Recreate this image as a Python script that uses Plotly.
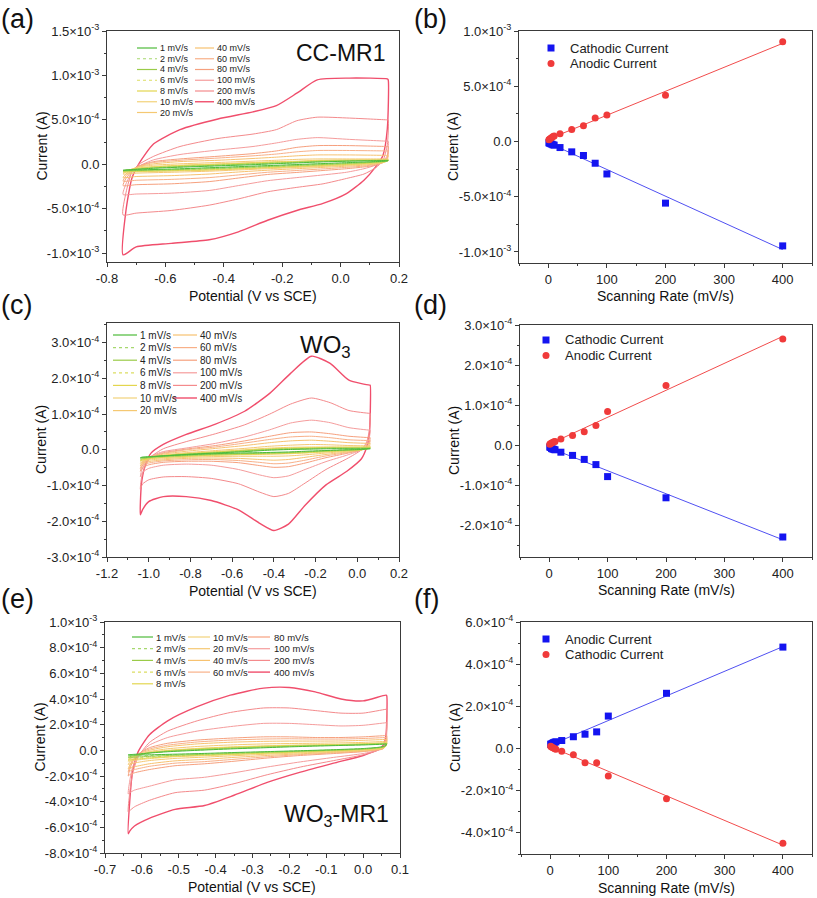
import numpy as np
import plotly.graph_objects as go

W, H = 817, 898
FONT = "Liberation Sans, Arial, sans-serif"
UNIT = 1e-4  # all current values below are in units of 1e-4 A

# ---------------- common series info ----------------
RATES = [1, 2, 4, 6, 8, 10, 20, 40, 60, 80, 100, 200, 400]
RATE_LABELS = ["1 mV/s", "2 mV/s", "4 mV/s", "6 mV/s", "8 mV/s", "10 mV/s", "20 mV/s",
               "40 mV/s", "60 mV/s", "80 mV/s", "100 mV/s", "200 mV/s", "400 mV/s"]
CV_COLORS = ["#4DBB3A", "#A6D86E", "#9ACB48", "#DCDD62", "#E3D64E", "#F2D27A", "#F5C872",
             "#F7C270", "#F8B088", "#F6A07E", "#F59C9C", "#F48A8C", "#F04E6C"]
CV_DASH = ["solid", "dot", "solid", "dot", "solid", "solid", "solid",
           "solid", "solid", "solid", "solid", "solid", "solid"]

# ---------------- (a) CC-MR1 CV ----------------
A_E_UP = [-0.745, -0.735, -0.715, -0.69, -0.64, -0.55, -0.42, -0.30, -0.22, -0.15, -0.08, 0.03, 0.16]
A_E_DN = [0.163, 0.16, 0.145, 0.12, 0.08, 0.02, -0.06, -0.15, -0.25, -0.35, -0.45, -0.58, -0.70, -0.745]
A_I_UP = [
    [-0.68, -0.65, -0.6, -0.55, -0.45, -0.33, -0.18, -0.05, 0.07, 0.15, 0.25, 0.35, 0.42],
    [-0.7, -0.65, -0.6, -0.53, -0.42, -0.3, -0.15, 0.0, 0.1, 0.2, 0.28, 0.37, 0.44],
    [-0.75, -0.68, -0.6, -0.52, -0.4, -0.25, -0.1, 0.05, 0.15, 0.23, 0.32, 0.4, 0.45],
    [-0.8, -0.7, -0.6, -0.5, -0.35, -0.2, -0.05, 0.1, 0.2, 0.27, 0.35, 0.42, 0.46],
    [-0.85, -0.72, -0.58, -0.45, -0.3, -0.15, 0.0, 0.15, 0.25, 0.3, 0.4, 0.45, 0.48],
    [-0.9, -0.75, -0.55, -0.4, -0.25, -0.1, 0.05, 0.2, 0.3, 0.35, 0.45, 0.5, 0.5],
    [-1.1, -0.85, -0.55, -0.3, -0.1, 0.05, 0.2, 0.35, 0.45, 0.55, 0.6, 0.6, 0.6],
    [-1.5, -1.1, -0.6, -0.25, 0.05, 0.3, 0.45, 0.65, 0.8, 0.95, 1.05, 1.05, 1.0],
    [-1.9, -1.3, -0.7, -0.2, 0.2, 0.45, 0.7, 0.95, 1.15, 1.4, 1.55, 1.55, 1.5],
    [-2.4, -1.6, -0.8, -0.2, 0.3, 0.6, 0.9, 1.2, 1.5, 1.9, 2.1, 2.1, 2.0],
    [-3.4, -2.2, -0.9, -0.2, 0.5, 1.1, 1.6, 2.0, 2.4, 2.8, 3.0, 2.8, 2.6],
    [-5.7, -3.2, -0.9, 0.0, 0.9, 2.0, 2.9, 3.4, 3.9, 4.9, 5.3, 5.2, 5.0],
    [-10.2, -5.2, -1.6, 0.1, 2.3, 3.9, 5.1, 5.9, 6.6, 8.0, 9.5, 9.7, 9.6],
]
A_I_DN = [
    [0.42, 0.38, 0.34, 0.3, 0.25, 0.18, 0.08, -0.03, -0.15, -0.27, -0.39, -0.54, -0.64, -0.68],
    [0.44, 0.38, 0.32, 0.27, 0.21, 0.13, 0.03, -0.08, -0.2, -0.32, -0.44, -0.57, -0.67, -0.7],
    [0.45, 0.37, 0.3, 0.24, 0.17, 0.08, -0.03, -0.14, -0.26, -0.38, -0.5, -0.62, -0.71, -0.75],
    [0.46, 0.36, 0.28, 0.21, 0.13, 0.03, -0.08, -0.2, -0.32, -0.44, -0.56, -0.67, -0.76, -0.8],
    [0.48, 0.35, 0.25, 0.18, 0.09, -0.02, -0.13, -0.25, -0.37, -0.5, -0.62, -0.72, -0.8, -0.85],
    [0.5, 0.35, 0.23, 0.15, 0.05, -0.06, -0.17, -0.29, -0.42, -0.55, -0.67, -0.77, -0.85, -0.9],
    [0.6, 0.4, 0.2, 0.1, 0.0, -0.12, -0.24, -0.36, -0.5, -0.64, -0.78, -0.9, -1.0, -1.1],
    [1.0, 0.55, 0.2, 0.05, -0.1, -0.22, -0.35, -0.5, -0.67, -0.87, -1.1, -1.28, -1.38, -1.5],
    [1.5, 0.7, 0.2, 0.0, -0.2, -0.35, -0.52, -0.7, -0.9, -1.2, -1.5, -1.7, -1.8, -1.9],
    [2.0, 0.8, 0.2, -0.1, -0.3, -0.5, -0.7, -0.92, -1.15, -1.55, -1.95, -2.2, -2.3, -2.4],
    [2.6, 1.0, 0.3, -0.1, -0.5, -0.9, -1.2, -1.5, -1.85, -2.4, -2.95, -3.25, -3.35, -3.4],
    [5.0, 2.2, 0.4, -0.4, -1.1, -1.6, -2.2, -2.6, -3.1, -3.9, -4.6, -5.2, -5.5, -5.7],
    [9.5, 4.0, 1.0, -0.3, -1.8, -3.3, -4.4, -5.2, -6.3, -7.6, -8.5, -8.9, -9.3, -10.2],
]

# ---------------- (c) WO3 CV ----------------
C_E_UP = [-1.04, -1.035, -1.02, -0.99, -0.93, -0.82, -0.68, -0.54, -0.42, -0.32, -0.22, -0.13, -0.04, 0.06]
C_E_DN = [0.062, 0.058, 0.045, 0.02, -0.05, -0.15, -0.25, -0.33, -0.40, -0.47, -0.57, -0.70, -0.82,
          -0.93, -1.0, -1.03, -1.04]
C_I_UP = [
    [-0.22, -0.21, -0.2, -0.19, -0.17, -0.13, -0.09, -0.05, -0.01, 0.01, 0.02, 0.03, 0.03, 0.03],
    [-0.24, -0.23, -0.22, -0.2, -0.17, -0.13, -0.09, -0.04, 0.0, 0.02, 0.03, 0.04, 0.04, 0.04],
    [-0.26, -0.25, -0.23, -0.2, -0.17, -0.12, -0.08, -0.03, 0.01, 0.03, 0.04, 0.05, 0.05, 0.05],
    [-0.28, -0.27, -0.24, -0.21, -0.17, -0.12, -0.07, -0.02, 0.02, 0.04, 0.05, 0.06, 0.06, 0.06],
    [-0.3, -0.28, -0.25, -0.21, -0.16, -0.11, -0.06, -0.01, 0.03, 0.05, 0.06, 0.07, 0.07, 0.07],
    [-0.32, -0.3, -0.26, -0.21, -0.16, -0.1, -0.05, 0.0, 0.05, 0.07, 0.08, 0.08, 0.08, 0.08],
    [-0.38, -0.34, -0.28, -0.21, -0.15, -0.08, -0.02, 0.04, 0.1, 0.13, 0.15, 0.14, 0.12, 0.11],
    [-0.45, -0.39, -0.3, -0.2, -0.12, -0.04, 0.04, 0.12, 0.2, 0.25, 0.27, 0.24, 0.2, 0.18],
    [-0.52, -0.44, -0.32, -0.2, -0.1, 0.0, 0.08, 0.19, 0.29, 0.36, 0.38, 0.34, 0.28, 0.26],
    [-0.6, -0.5, -0.35, -0.2, -0.08, 0.02, 0.12, 0.25, 0.38, 0.48, 0.5, 0.45, 0.38, 0.34],
    [-0.75, -0.6, -0.4, -0.18, -0.05, 0.05, 0.18, 0.36, 0.56, 0.75, 0.83, 0.76, 0.62, 0.55],
    [-1.10, -0.8, -0.5, -0.2, 0.03, 0.23, 0.45, 0.70, 1.0, 1.28, 1.45, 1.32, 1.10, 1.02],
    [-1.82, -0.96, -0.5, -0.1, 0.15, 0.43, 0.72, 1.08, 1.58, 2.14, 2.62, 2.42, 1.95, 1.81],
]
C_I_DN = [
    [0.03, 0.03, 0.02, 0.01, 0.0, -0.02, -0.04, -0.06, -0.07, -0.08, -0.09, -0.11, -0.14, -0.17, -0.2, -0.21, -0.22],
    [0.04, 0.04, 0.03, 0.01, 0.0, -0.02, -0.05, -0.07, -0.08, -0.09, -0.1, -0.12, -0.15, -0.18, -0.21, -0.23, -0.24],
    [0.05, 0.04, 0.03, 0.01, -0.01, -0.03, -0.06, -0.08, -0.09, -0.1, -0.11, -0.13, -0.16, -0.19, -0.22, -0.24, -0.26],
    [0.06, 0.05, 0.03, 0.01, -0.01, -0.04, -0.07, -0.09, -0.1, -0.11, -0.12, -0.14, -0.17, -0.2, -0.23, -0.26, -0.28],
    [0.07, 0.05, 0.03, 0.0, -0.02, -0.05, -0.08, -0.1, -0.11, -0.12, -0.13, -0.15, -0.18, -0.21, -0.25, -0.28, -0.3],
    [0.08, 0.06, 0.03, 0.0, -0.03, -0.06, -0.09, -0.11, -0.12, -0.13, -0.14, -0.16, -0.19, -0.22, -0.26, -0.29, -0.32],
    [0.11, 0.08, 0.04, 0.0, -0.04, -0.09, -0.14, -0.17, -0.18, -0.18, -0.18, -0.19, -0.21, -0.25, -0.29, -0.33, -0.38],
    [0.18, 0.12, 0.06, 0.0, -0.06, -0.13, -0.21, -0.27, -0.29, -0.27, -0.24, -0.23, -0.24, -0.28, -0.33, -0.39, -0.45],
    [0.26, 0.17, 0.08, 0.0, -0.08, -0.17, -0.29, -0.37, -0.39, -0.35, -0.3, -0.27, -0.28, -0.31, -0.37, -0.44, -0.52],
    [0.34, 0.22, 0.1, 0.0, -0.1, -0.22, -0.37, -0.47, -0.49, -0.44, -0.36, -0.32, -0.32, -0.35, -0.42, -0.5, -0.6],
    [0.55, 0.35, 0.15, 0.0, -0.15, -0.33, -0.55, -0.73, -0.78, -0.7, -0.55, -0.43, -0.40, -0.43, -0.52, -0.63, -0.75],
    [1.02, 0.55, 0.22, 0.0, -0.25, -0.55, -0.93, -1.22, -1.31, -1.18, -0.95, -0.80, -0.75, -0.76, -0.84, -0.96, -1.10],
    [1.81, 0.45, 0.07, -0.25, -0.6, -0.98, -1.55, -2.08, -2.26, -2.05, -1.68, -1.42, -1.31, -1.31, -1.45, -1.68, -1.82],
]

# ---------------- (e) WO3-MR1 CV ----------------
E_E_UP = [-0.637, -0.633, -0.625, -0.61, -0.58, -0.53, -0.45, -0.36, -0.27, -0.2, -0.13, -0.06, 0.0, 0.062]
E_E_DN = [0.064, 0.062, 0.055, 0.04, 0.0, -0.08, -0.17, -0.26, -0.35, -0.43, -0.51, -0.58, -0.62, -0.633, -0.637]
E_I_UP = [
    [-0.35, -0.34, -0.32, -0.29, -0.21, -0.11, 0.0, 0.11, 0.2, 0.27, 0.33, 0.38, 0.42, 0.48],
    [-0.45, -0.42, -0.38, -0.32, -0.21, -0.09, 0.03, 0.14, 0.23, 0.3, 0.35, 0.4, 0.44, 0.5],
    [-0.55, -0.5, -0.43, -0.34, -0.2, -0.07, 0.06, 0.17, 0.26, 0.32, 0.37, 0.41, 0.46, 0.53],
    [-0.65, -0.58, -0.48, -0.36, -0.19, -0.05, 0.09, 0.2, 0.29, 0.35, 0.39, 0.43, 0.48, 0.55],
    [-0.75, -0.65, -0.52, -0.37, -0.18, -0.03, 0.12, 0.23, 0.32, 0.37, 0.41, 0.45, 0.5, 0.57],
    [-0.85, -0.72, -0.55, -0.38, -0.17, 0.0, 0.15, 0.27, 0.35, 0.4, 0.43, 0.47, 0.52, 0.6],
    [-1.1, -0.9, -0.65, -0.38, -0.1, 0.12, 0.3, 0.42, 0.5, 0.53, 0.55, 0.58, 0.62, 0.7],
    [-1.45, -1.15, -0.75, -0.35, 0.0, 0.28, 0.5, 0.63, 0.7, 0.72, 0.72, 0.73, 0.78, 0.85],
    [-1.7, -1.3, -0.8, -0.3, 0.1, 0.4, 0.65, 0.8, 0.88, 0.9, 0.88, 0.88, 0.92, 1.0],
    [-2.0, -1.5, -0.9, -0.3, 0.2, 0.55, 0.8, 0.95, 1.05, 1.05, 1.0, 1.0, 1.05, 1.15],
    [-3.4, -2.4, -1.3, -0.4, 0.4, 1.0, 1.5, 1.85, 2.1, 2.1, 2.0, 1.9, 1.95, 2.15],
    [-4.8, -3.3, -1.8, -0.5, 0.6, 1.5, 2.3, 2.95, 3.3, 3.3, 3.1, 2.9, 2.9, 3.2],
    [-6.5, -4.0, -1.6, -0.1, 1.2, 2.3, 3.4, 4.3, 4.85, 4.9, 4.55, 4.0, 3.85, 4.3],
]
E_I_DN = [
    [0.48, 0.4, 0.3, 0.23, 0.14, 0.05, -0.03, -0.1, -0.17, -0.24, -0.3, -0.35, -0.36, -0.36, -0.35],
    [0.5, 0.38, 0.28, 0.21, 0.12, 0.03, -0.05, -0.13, -0.2, -0.27, -0.34, -0.41, -0.44, -0.45, -0.45],
    [0.53, 0.37, 0.26, 0.19, 0.1, 0.01, -0.07, -0.15, -0.23, -0.31, -0.38, -0.47, -0.53, -0.55, -0.55],
    [0.55, 0.36, 0.24, 0.17, 0.08, -0.01, -0.1, -0.18, -0.27, -0.35, -0.42, -0.53, -0.62, -0.65, -0.65],
    [0.57, 0.35, 0.22, 0.15, 0.06, -0.03, -0.12, -0.21, -0.3, -0.38, -0.46, -0.59, -0.7, -0.74, -0.75],
    [0.6, 0.35, 0.2, 0.13, 0.04, -0.05, -0.14, -0.23, -0.33, -0.42, -0.5, -0.65, -0.78, -0.83, -0.85],
    [0.7, 0.35, 0.18, 0.1, 0.0, -0.1, -0.2, -0.3, -0.42, -0.53, -0.63, -0.8, -0.98, -1.06, -1.1],
    [0.85, 0.35, 0.15, 0.06, -0.05, -0.15, -0.27, -0.4, -0.55, -0.7, -0.82, -1.05, -1.28, -1.4, -1.45],
    [1.0, 0.35, 0.15, 0.05, -0.08, -0.2, -0.33, -0.5, -0.7, -0.88, -1.0, -1.25, -1.5, -1.62, -1.7],
    [1.15, 0.4, 0.15, 0.05, -0.1, -0.25, -0.4, -0.6, -0.85, -1.05, -1.2, -1.5, -1.75, -1.9, -2.0],
    [2.15, 0.6, 0.15, 0.0, -0.25, -0.55, -0.9, -1.3, -1.75, -2.1, -2.3, -2.8, -3.1, -3.3, -3.4],
    [3.2, 0.9, 0.3, 0.0, -0.35, -0.8, -1.3, -1.9, -2.6, -3.1, -3.3, -3.9, -4.4, -4.7, -4.8],
    [4.25, 1.2, 0.4, 0.05, -0.4, -1.0, -1.7, -2.5, -3.5, -4.3, -4.6, -5.3, -5.9, -6.3, -6.5],
]

# ---------------- peak currents vs scan rate ----------------
B_CATHODIC = [-0.12, -0.15, -0.2, -0.25, -0.3, -0.33, -0.55, -0.94, -1.27, -1.97, -2.94, -5.58, -9.45]
B_ANODIC = [0.15, 0.2, 0.3, 0.35, 0.45, 0.5, 0.70, 1.09, 1.42, 2.12, 2.39, 4.18, 9.03]
D_CATHODIC = [-0.05, -0.06, -0.09, -0.10, -0.11, -0.12, -0.18, -0.26, -0.36, -0.49, -0.79, -1.32, -2.30]
D_ANODIC = [0.02, 0.03, 0.05, 0.06, 0.08, 0.09, 0.15, 0.24, 0.33, 0.49, 0.84, 1.49, 2.65]
F_ANODIC = [0.20, 0.22, 0.25, 0.28, 0.30, 0.32, 0.38, 0.56, 0.68, 0.79, 1.54, 2.62, 4.81]
F_CATHODIC = [0.11, 0.08, 0.05, 0.02, -0.01, -0.03, -0.13, -0.29, -0.67, -0.67, -1.30, -2.38, -4.49]

# ---------------- axis ticks ----------------
A_YTICKS = [-1.0e-3, -5.0e-4, 0.0, 5.0e-4, 1.0e-3, 1.5e-3]
B_YTICKS = [-1.0e-3, -5.0e-4, 0.0, 5.0e-4, 1.0e-3]
C_YTICKS = [-3.0e-4, -2.0e-4, -1.0e-4, 0.0, 1.0e-4, 2.0e-4, 3.0e-4]
D_YTICKS = [-2.0e-4, -1.0e-4, 0.0, 1.0e-4, 2.0e-4, 3.0e-4]
E_YTICKS = [-8.0e-4, -6.0e-4, -4.0e-4, -2.0e-4, 0.0, 2.0e-4, 4.0e-4, 6.0e-4, 8.0e-4, 1.0e-3]
F_YTICKS = [-4.0e-4, -2.0e-4, 0.0, 2.0e-4, 4.0e-4, 6.0e-4]
A_XTICKS = [-0.8, -0.6, -0.4, -0.2, 0.0, 0.2]
C_XTICKS = [-1.2, -1.0, -0.8, -0.6, -0.4, -0.2, 0.0, 0.2]
E_XTICKS = [-0.7, -0.6, -0.5, -0.4, -0.3, -0.2, -0.1, 0.0, 0.1]
RATE_XTICKS = [0, 100, 200, 300, 400]

# ---------------- layout geometry (pixels) ----------------
BOX = {
    1: (107, 31, 399, 262),
    2: (519, 31, 812, 263),
    3: (107, 323, 399, 557),
    4: (520, 325, 812, 557),
    5: (105, 622, 400, 853),
    6: (521, 622, 812, 854),
}


def px(x):
    return x / W


def py(y):
    return 1 - y / H


def sci_label(v):
    if v == 0:
        return "0.0"
    e = int(np.floor(np.log10(abs(v)) + 1e-9))
    m = v / 10 ** e
    return f"{m:.1f}×10<sup>{e}</sup>"


fig = go.Figure()

AX_COLOR = "#3a3a3a"


def axis_base():
    return dict(showline=True, linecolor=AX_COLOR, linewidth=1, mirror=True,
                ticks="outside", ticklen=4, tickwidth=1, tickcolor=AX_COLOR,
                showgrid=False, zeroline=False, fixedrange=True, automargin=False,
                tickfont=dict(family=FONT, size=13, color="#222"))


def add_cv(idx, e_up, e_dn, i_up, i_dn):
    for k in reversed(range(len(RATES))):
        x = list(e_up) + list(e_dn)
        y = (np.array(list(i_up[k]) + list(i_dn[k])) * UNIT).tolist()
        fig.add_trace(go.Scatter(
            x=x, y=y, mode="lines", name=RATE_LABELS[k],
            xaxis=f"x{idx}", yaxis=f"y{idx}", showlegend=False, hoverinfo="skip",
            line=dict(color=CV_COLORS[k], width=1.4 if RATES[k] == 400 else 1.0,
                      dash=CV_DASH[k], shape="spline", smoothing=0.6)))


add_cv(1, A_E_UP, A_E_DN, A_I_UP, A_I_DN)
add_cv(3, C_E_UP, C_E_DN, C_I_UP, C_I_DN)
add_cv(5, E_E_UP, E_E_DN, E_I_UP, E_I_DN)

BLUE_M, RED_M = "#1414F0", "#F03A3A"
BLUE_L, RED_L = "#5050F2", "#F24C4C"


def add_rate(idx, series):
    xr = np.array(RATES, dtype=float)
    xfit = np.array([0.0, xr.max()])
    for vals, sym, mc, lc in series:
        v = np.array(vals) * UNIT
        k, b = np.polyfit(xr, v, 1)
        fig.add_trace(go.Scatter(x=xfit, y=k * xfit + b, mode="lines",
                                 xaxis=f"x{idx}", yaxis=f"y{idx}", showlegend=False,
                                 hoverinfo="skip", line=dict(color=lc, width=1)))
    for vals, sym, mc, lc in series:
        v = np.array(vals) * UNIT
        fig.add_trace(go.Scatter(x=RATES, y=v, mode="markers",
                                 xaxis=f"x{idx}", yaxis=f"y{idx}", showlegend=False,
                                 hoverinfo="skip",
                                 marker=dict(symbol=sym, size=7, color=mc, line=dict(width=0))))


add_rate(2, [(B_CATHODIC, "square", BLUE_M, BLUE_L), (B_ANODIC, "circle", RED_M, RED_L)])
add_rate(4, [(D_CATHODIC, "square", BLUE_M, BLUE_L), (D_ANODIC, "circle", RED_M, RED_L)])
add_rate(6, [(F_ANODIC, "square", BLUE_M, BLUE_L), (F_CATHODIC, "circle", RED_M, RED_L)])

# ---------------- axes ----------------
AXES = {
    1: dict(xr=[-0.8, 0.2], xt=A_XTICKS, xminor=0.1, yr=[-1.1e-3, 1.5e-3], yt=A_YTICKS, yminor=2.5e-4, rate=False),
    2: dict(xr=[-50, 450], xt=RATE_XTICKS, xminor=50, yr=[-1.1e-3, 1.0e-3], yt=B_YTICKS, yminor=2.5e-4, rate=True),
    3: dict(xr=[-1.2, 0.2], xt=C_XTICKS, xminor=0.1, yr=[-3.0e-4, 3.55e-4], yt=C_YTICKS, yminor=5e-5, rate=False),
    4: dict(xr=[-50, 450], xt=RATE_XTICKS, xminor=50, yr=[-2.8e-4, 3.0e-4], yt=D_YTICKS, yminor=5e-5, rate=True),
    5: dict(xr=[-0.7, 0.1], xt=E_XTICKS, xminor=0.05, yr=[-8.0e-4, 1.0e-3], yt=E_YTICKS, yminor=1e-4, rate=False),
    6: dict(xr=[-50, 450], xt=RATE_XTICKS, xminor=50, yr=[-5.0e-4, 6.0e-4], yt=F_YTICKS, yminor=1e-4, rate=True),
}

layout_axes = {}
for i, a in AXES.items():
    x0, y0, x1, y1 = BOX[i]
    xa = axis_base()
    xa.update(domain=[px(x0), px(x1)], range=a["xr"], anchor=f"y{i}",
              tickmode="array", tickvals=a["xt"],
              ticktext=[str(int(v)) for v in a["xt"]] if a["rate"] else [f"{v:.1f}" for v in a["xt"]],
              minor=dict(ticks="outside", ticklen=2, tickcolor=AX_COLOR, dtick=a["xminor"], tick0=0))
    ya = axis_base()
    ya.update(domain=[py(y1), py(y0)], range=a["yr"], anchor=f"x{i}",
              tickmode="array", tickvals=a["yt"], ticktext=[sci_label(v) for v in a["yt"]],
              minor=dict(ticks="outside", ticklen=2, tickcolor=AX_COLOR, dtick=a["yminor"], tick0=0))
    layout_axes["xaxis" if i == 1 else f"xaxis{i}"] = xa
    layout_axes["yaxis" if i == 1 else f"yaxis{i}"] = ya

# ---------------- text ----------------
ann = []
shapes = []


def text(x, y, s, size, anchor="left", angle=0, color="#111"):
    ann.append(dict(x=px(x), y=py(y), xref="paper", yref="paper", text=s, showarrow=False,
                    xanchor=anchor, yanchor="middle", textangle=angle, borderpad=0,
                    font=dict(family=FONT, size=size, color=color)))


# panel letters
for lab, x, y in [("(a)", 0, 19), ("(b)", 413, 19), ("(c)", 0, 305), ("(d)", 413, 305),
                  ("(e)", 0, 599), ("(f)", 413, 599)]:
    text(x, y, lab, 27)

# axis titles
for i in range(1, 7):
    x0, y0, x1, y1 = BOX[i]
    text(x0 - 66, (y0 + y1) / 2, "Current (A)", 14, anchor="center", angle=-90)
XT = {1: ("Potential (V vs SCE)", 296), 2: ("Scanning Rate (mV/s)", 296),
      3: ("Potential (V vs SCE)", 591), 4: ("Scanning Rate (mV/s)", 590),
      5: ("Potential (V vs SCE)", 887), 6: ("Scanning Rate (mV/s)", 888)}
for i, (s, y) in XT.items():
    x0, y0, x1, y1 = BOX[i]
    text((x0 + x1) / 2, y, s, 14, anchor="center")

# sample names
text(295, 53, "CC-MR1", 23)
text(299, 346, "WO<sub>3</sub>", 24)
text(283, 815, "WO<sub>3</sub>-MR1", 23)


# CV legends (manual, Origin-like compact rows)
def cv_legend(cols, y_first, dy, size):
    for (lx0, lx1, tx, ids) in cols:
        for r, k in enumerate(ids):
            yy = y_first + r * dy
            shapes.append(dict(type="line", xref="paper", yref="paper",
                               x0=px(lx0), x1=px(lx1), y0=py(yy), y1=py(yy),
                               line=dict(color=CV_COLORS[k], width=1.4 if RATES[k] == 400 else 1.2,
                                         dash=CV_DASH[k])))
            text(tx, yy, RATE_LABELS[k], size, color="#222")


cv_legend([(137, 157, 159, [0, 1, 2, 3, 4, 5, 6]), (195, 214, 216, [7, 8, 9, 10, 11, 12])], 48, 10.75, 9)
cv_legend([(113, 137, 139, [0, 1, 2, 3, 4, 5, 6]), (173, 197, 199, [7, 8, 9, 10, 11, 12])], 335, 12.6, 10)
cv_legend([(132, 153, 155, [0, 1, 2, 3, 4]), (188, 210, 212, [5, 6, 7, 8]), (248, 270, 273, [9, 10, 11, 12])],
          637, 11.7, 9.5)


def rate_legend(mx, tx, y_first, entries):
    for r, (lab, kind, col) in enumerate(entries):
        yy = y_first + r * 15.5
        shapes.append(dict(type="rect" if kind == "square" else "circle", xref="paper", yref="paper",
                           xsizemode="pixel", ysizemode="pixel", xanchor=px(mx), yanchor=py(yy),
                           x0=-3.5, x1=3.5, y0=-3.5, y1=3.5, fillcolor=col, line=dict(width=0)))
        text(tx, yy, lab, 13, color="#222")


rate_legend(551, 569, 48, [("Cathodic Current", "square", BLUE_M), ("Anodic Current", "circle", RED_M)])
rate_legend(546, 564, 340, [("Cathodic Current", "square", BLUE_M), ("Anodic Current", "circle", RED_M)])
rate_legend(546, 564, 639, [("Anodic Current", "square", BLUE_M), ("Cathodic Current", "circle", RED_M)])

fig.update_layout(
    width=W, height=H, autosize=False,
    margin=dict(l=0, r=0, t=0, b=0, autoexpand=False),
    paper_bgcolor="white", plot_bgcolor="white",
    showlegend=False, hovermode=False,
    font=dict(family=FONT, size=12, color="#222"),
    annotations=ann, shapes=shapes,
    **layout_axes,
)

fig.write_html("out.html", config={"displayModeBar": False},
               post_script="document.body.style.margin='0px';document.body.style.overflow='hidden';")
